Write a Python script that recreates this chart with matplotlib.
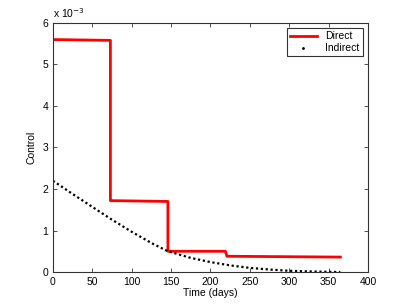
import matplotlib.pyplot as plt
from matplotlib.lines import Line2D
from matplotlib.ticker import FuncFormatter

plt.rcParams['font.family'] = ['Liberation Sans', 'DejaVu Sans']
plt.rcParams['font.size'] = 7.5

# Direct control (step profile)
t_direct = [0, 73, 73, 146, 146, 219, 221, 365]
u_direct = [5.60e-3, 5.58e-3, 1.72e-3, 1.70e-3, 0.50e-3, 0.50e-3, 0.38e-3, 0.36e-3]

# Indirect control (smooth decay)
t_indirect = [0, 25, 50, 75, 100, 125, 146, 175, 200, 225, 250, 275, 300, 325, 350, 365]
u_indirect = [2.20e-3, 1.88e-3, 1.57e-3, 1.26e-3, 0.97e-3, 0.70e-3, 0.50e-3, 0.34e-3,
              0.24e-3, 0.16e-3, 0.10e-3, 0.06e-3, 0.03e-3, 0.015e-3, 0.005e-3, 0.0]

fig = plt.figure(figsize=(4.07, 3.06), dpi=100)
ax = fig.add_axes([0.130, 0.111, 0.774, 0.814])

ax.plot(t_direct, u_direct, color='red', linewidth=2)
ax.plot(t_indirect, u_indirect, color='black', linestyle=(0, (1, 1.2)), linewidth=1.6)

ax.set_xlim(0, 400)
ax.set_ylim(0, 6e-3)
ax.set_xticks(range(0, 401, 50))
ax.set_yticks([i * 1e-3 for i in range(7)])
ax.yaxis.set_major_formatter(FuncFormatter(lambda v, p: f'{v * 1e3:g}'))
ax.text(0.0, 1.01, 'x 10$^{-3}$', transform=ax.transAxes, ha='left', va='bottom', fontsize=7.5)

ax.tick_params(direction='in', top=True, right=True, length=3, width=0.6, color='#333333')
for s in ax.spines.values():
    s.set_linewidth(0.8)
    s.set_color('#333333')

ax.set_xlabel('Time (days)', labelpad=1)
ax.set_ylabel('Control', labelpad=4)

handles = [Line2D([], [], color='red', linewidth=2),
           Line2D([], [], color='black', marker='.', markersize=2, linestyle='none')]
leg = ax.legend(handles, ['Direct', 'Indirect'], loc='upper right', fancybox=False,
                edgecolor='#333333', framealpha=1, borderpad=0.3, handlelength=2.6,
                labelspacing=0.2, borderaxespad=0.5)
leg.get_frame().set_linewidth(0.8)

fig.savefig('out.png', dpi=100)
